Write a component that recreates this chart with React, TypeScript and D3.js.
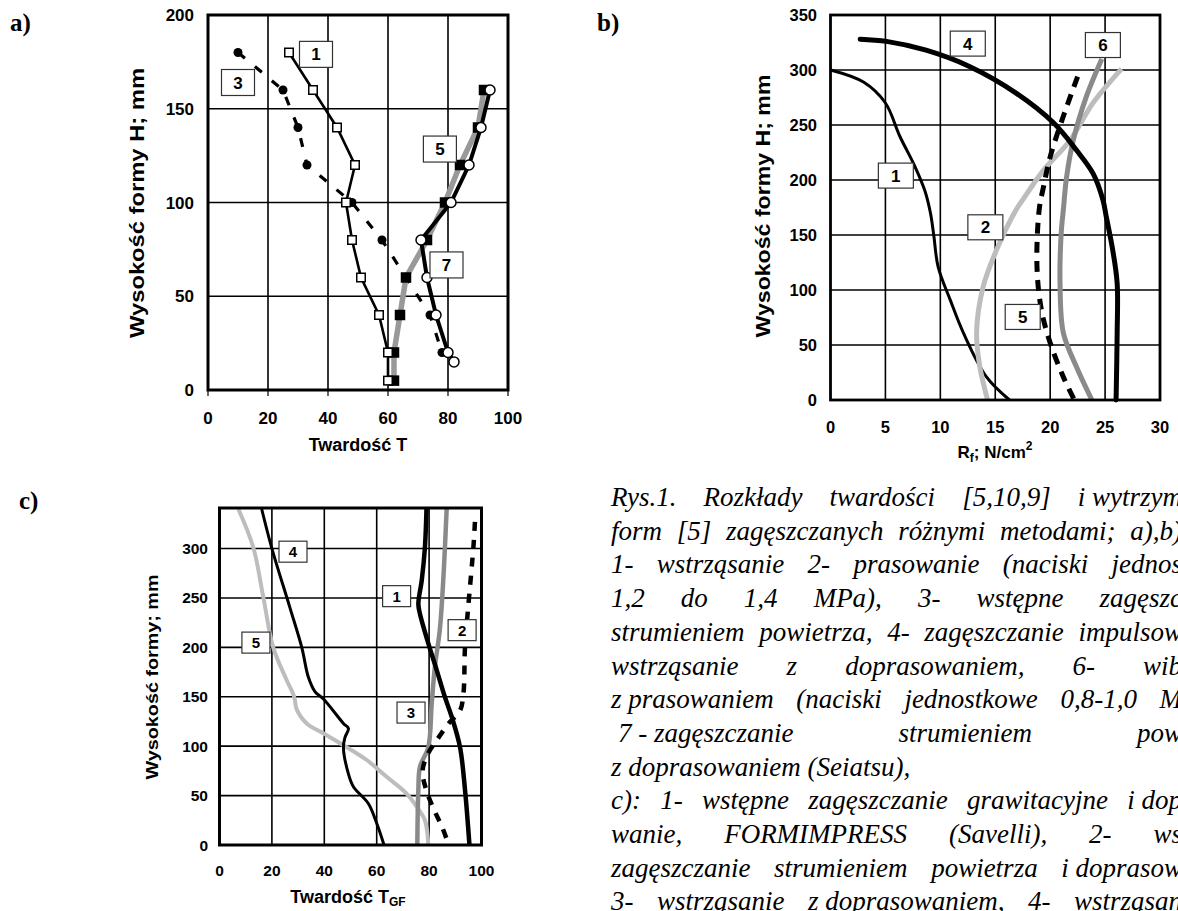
import React, { useMemo } from 'react';
import * as d3 from 'd3';

// ---------- Panel a) data : Twardość T vs H ----------
const aXTicks = [0, 20, 40, 60, 80, 100];
const aYTicks = [0, 50, 100, 150, 200];
const a1H = [180, 160, 140, 120, 100, 80, 60, 40, 20, 5];
const a1T = [27, 35, 43, 49, 46, 48, 51, 57, 60, 60];
const a3H = [180, 160, 140, 120, 100, 80, 60, 40, 20];
const a3T = [10, 25, 30, 33, 48, 58, 66, 74, 78];
const a5H = [160, 140, 120, 100, 80, 60, 40, 20, 5];
const a5T = [92, 90, 84, 79, 73, 66, 64, 62, 62];
const a7H = [160, 140, 120, 100, 80, 60, 40, 20, 15];
const a7T = [94, 91, 87, 81, 71, 73, 76, 80, 82];
const aLabels = ['1', '3', '5', '7'];
const aLabelT = [36, 10, 77.3, 79.5];
const aLabelH = [179, 164, 128.5, 66.7];

// ---------- Panel b) data : Rf vs H ----------
const bXTicks = [0, 5, 10, 15, 20, 25, 30];
const bYTicks = [0, 50, 100, 150, 200, 250, 300, 350];
const b1R = [0, 3, 5, 6.3, 7.7, 8.6, 9.1, 9.4, 9.8, 10.9, 12.1, 14.2, 16.3];
const b1H = [300, 289, 270, 240, 212, 190, 170, 150, 121, 91, 61, 21, 0];
const b4R = [2.7, 5.1, 8.7, 12.7, 16.9, 20.3, 22.4, 23.9, 24.8, 25.1, 25.7, 26.1, 26.1, 26];
const b4H = [328, 326, 318, 303, 279, 252, 227, 206, 182, 167, 136, 106, 61, 0];
const b2R = [26.5, 23.9, 21.8, 19.4, 17.5, 16.9, 15.1, 13.9, 13.3, 13.6, 14.3];
const b2H = [301, 270, 236, 209, 182, 173, 136, 103, 61, 30, 0];
const b6R = [24.7, 23.3, 22.1, 21.5, 21.2, 21, 20.9, 21.2, 22.4, 23.8];
const b6H = [310, 276, 236, 203, 173, 151, 106, 61, 30, 0];
const b5R = [22.5, 21.2, 20, 19.4, 19.0, 18.8, 19.2, 20, 21.2, 22.2];
const b5H = [294, 258, 221, 194, 173, 121, 82, 52, 21, 0];
const bLabels = ['4', '6', '1', '2', '5'];
const bLabelR = [12.5, 24.8, 5.95, 14.1, 17.5];
const bLabelH = [324, 322.7, 204, 157, 75.5];

// ---------- Panel c) data : T_GF vs H ----------
const cXTicks = [0, 20, 40, 60, 80, 100];
const cYTicks = [0, 50, 100, 150, 200, 250, 300];
const c5T = [7.2, 12.9, 16.7, 20.5, 25.6, 28.5, 29.5, 33.3, 39.6, 46, 56.2, 63.8, 71.4, 75.2, 78.4, 79.7];
const c5H = [340, 301, 251, 200, 167, 150, 137, 123, 113, 103, 86, 69, 52, 39, 25, 0];
const c4T = [16.1, 19.9, 26.9, 31.4, 33.9, 36.5, 39.6, 47.3, 49.2, 47.9, 47.3, 49.2, 51.1, 56.8, 60, 62.8];
const c4H = [340, 301, 240, 200, 170, 155, 148, 123, 118, 109, 99, 72, 59, 42, 22, 0];
const c1T = [79, 78.4, 77.2, 75.9, 76.5, 79.7, 82.9, 86, 88.6, 91.8, 93.7, 95.4];
const c1H = [340, 301, 268, 244, 234, 204, 177, 150, 130, 99, 56, 0];
const c3T = [86.7, 85.4, 84.1, 82.2, 81, 79.7, 76.5, 75.9, 75.5];
const c3H = [340, 268, 218, 180, 143, 99, 79, 56, 0];
const c2T = [97.5, 96.9, 94.9, 93.7, 93.1, 91.8, 87.5, 82.9, 79.7, 77.5, 79, 82, 85, 87.5];
const c2H = [327, 301, 240, 200, 153, 136, 123, 106, 93, 75, 55, 35, 18, 0];
const cLabels = ['4', '1', '2', '5', '3'];
const cLabelT = [28.05, 67.6, 92.6, 13.9, 73.1];
const cLabelH = [296.8, 251.8, 217.4, 204.8, 134];

// ---------- Caption ----------
const CAPTION = [
  'Rys.1.|Rozkłady|twardości|[5,10,9]|i wytrzym',
  'form|[5]|zagęszczanych|różnymi|metodami;|a),b)',
  '1-|wstrząsanie|2-|prasowanie|(naciski|jednos',
  '1,2|do|1,4|MPa),|3-|wstępne|zagęszc',
  'strumieniem|powietrza,|4-|zagęszczanie|impulsow',
  'wstrząsanie|z|doprasowaniem,|6-|wib',
  'z prasowaniem|(naciski|jednostkowe|0,8-1,0|M',
  '7 - zagęszczanie|strumieniem|pow',
  'z doprasowaniem (Seiatsu),',
  'c):|1-|wstępne|zagęszczanie|grawitacyjne|i dop',
  'wanie,|FORMIMPRESS|(Savelli),|2-|ws',
  'zagęszczanie|strumieniem|powietrza|i doprasow',
  '3-|wstrząsanie|z doprasowaniem,|4-|wstrząsan',
];
const CAPTION_JUSTIFY = [true, true, true, true, true, true, true, true, false, true, true, true, true];

const SANS = "'Liberation Sans', Arial, sans-serif";
const SERIF = "'Liberation Serif', 'Times New Roman', serif";

const zip = (xs: number[], ys: number[]) => xs.map((x, i) => [x, ys[i]] as [number, number]);

function Frame({ x, y, xt, yt, gw }: any) {
  const [x0, x1] = x.range();
  const [y0, y1] = y.range();
  return (
    <g>
      {xt.slice(1, -1).map((t: number) => (
        <line key={'gx' + t} x1={x(t)} x2={x(t)} y1={y0} y2={y1} stroke="#000" strokeWidth={gw} />
      ))}
      {yt.filter((t: number) => t > y.domain()[0] && t < y.domain()[1]).map((t: number) => (
        <line key={'gy' + t} x1={x0} x2={x1} y1={y(t)} y2={y(t)} stroke="#000" strokeWidth={gw} />
      ))}
    </g>
  );
}

function Border({ x, y, fw }: any) {
  const [x0, x1] = x.range();
  const [y0, y1] = y.range();
  return <rect x={x0} y={y1} width={x1 - x0} height={y0 - y1} fill="none" stroke="#000" strokeWidth={fw} />;
}

function LabelBox({ cx, cy, w, h, text, fs }: any) {
  return (
    <g>
      <rect x={cx - w / 2} y={cy - h / 2} width={w} height={h} fill="#fff" stroke="#333" strokeWidth={1.2} />
      <text x={cx} y={cy + fs * 0.36} textAnchor="middle" fontFamily={SANS} fontWeight="bold" fontSize={fs}>
        {text}
      </text>
    </g>
  );
}

export default function App() {
  const ax = d3.scaleLinear().domain([0, 100]).range([208, 508]);
  const ay = d3.scaleLinear().domain([0, 200]).range([390, 15]);
  const bx = d3.scaleLinear().domain([0, 30]).range([830.5, 1160]);
  const by = d3.scaleLinear().domain([0, 350]).range([400, 15]);
  const cx = d3.scaleLinear().domain([0, 100]).range([219.5, 481.5]);
  const cy = d3.scaleLinear().domain([0, 341]).range([845, 508]);

  const aLine = d3.line<[number, number]>().x(d => ax(d[0])).y(d => ay(d[1]));
  const bLine = d3.line<[number, number]>().x(d => bx(d[0])).y(d => by(d[1])).curve(d3.curveCatmullRom.alpha(0.5));
  const cLine = d3.line<[number, number]>().x(d => cx(d[0])).y(d => cy(d[1])).curve(d3.curveCatmullRom.alpha(0.5));

  const caption = useMemo(() => {
    const X0 = 611;
    const END = 1182;
    const ctx = document.createElement('canvas').getContext('2d')!;
    ctx.font = `italic 27px ${SERIF}`;
    return CAPTION.map((line, i) => {
      const toks = line.split('|');
      const start = i === 7 ? X0 + 7 : X0;
      if (!CAPTION_JUSTIFY[i] || toks.length < 2) return [{ t: toks.join(' '), x: start }];
      const widths = toks.map(t => ctx.measureText(t).width);
      const gap = (END - start - d3.sum(widths)) / (toks.length - 1);
      let x = start;
      return toks.map((t, j) => {
        const o = { t, x };
        x += widths[j] + gap;
        return o;
      });
    });
  }, []);

  const sq = (x: number, y: number, s: number, fill: string, key: string) => (
    <rect key={key} x={x - s / 2} y={y - s / 2} width={s} height={s} fill={fill} stroke="#000" strokeWidth={1.5} />
  );

  return (
    <svg width={1178} height={911} style={{ position: 'absolute', left: 0, top: 0, display: 'block', background: '#fff' }}>
      <rect x={0} y={0} width={1178} height={911} fill="#fff" />

      <text x={10} y={31} fontFamily={SERIF} fontWeight="bold" fontSize={25}>a)</text>
      <text x={597} y={31} fontFamily={SERIF} fontWeight="bold" fontSize={25}>b)</text>
      <text x={19} y={509} fontFamily={SERIF} fontWeight="bold" fontSize={25}>c)</text>

      {/* ================= Panel a ================= */}
      <g>
        <Frame x={ax} y={ay} xt={aXTicks} yt={aYTicks} gw={1.6} />
        {aXTicks.map(t => (
          <line key={'atk' + t} x1={ax(t)} x2={ax(t)} y1={390} y2={396} stroke="#000" strokeWidth={1.2} />
        ))}
        <path d={aLine(zip(a3T, a3H))!} fill="none" stroke="#000" strokeWidth={3.2} strokeDasharray="9 13" />
        {a3T.map((t, i) => <circle key={'a3' + i} cx={ax(t)} cy={ay(a3H[i])} r={4.5} fill="#000" />)}
        <path d={aLine(zip(a5T, a5H))!} fill="none" stroke="#999" strokeWidth={5.5} />
        {a5T.map((t, i) => sq(ax(t), ay(a5H[i]), 9, '#000', 'a5' + i))}
        <path d={aLine(zip(a7T, a7H))!} fill="none" stroke="#000" strokeWidth={4} />
        {a7T.map((t, i) => (
          <circle key={'a7' + i} cx={ax(t)} cy={ay(a7H[i])} r={5} fill="#fff" stroke="#000" strokeWidth={1.5} />
        ))}
        <path d={aLine(zip(a1T, a1H))!} fill="none" stroke="#000" strokeWidth={2.6} />
        {a1T.map((t, i) => sq(ax(t), ay(a1H[i]), 8.5, '#fff', 'a1' + i))}
        <Border x={ax} y={ay} fw={3} />
        {aLabels.map((l, i) => (
          <LabelBox key={'al' + l} cx={ax(aLabelT[i])} cy={ay(aLabelH[i])} w={33} h={26} text={l} fs={17} />
        ))}
        {aYTicks.map(t => (
          <text key={'ayl' + t} x={194} y={ay(t) + 6} textAnchor="end" fontFamily={SANS} fontWeight="bold" fontSize={17}>{t}</text>
        ))}
        {aXTicks.map(t => (
          <text key={'axl' + t} x={ax(t)} y={424} textAnchor="middle" fontFamily={SANS} fontWeight="bold" fontSize={17}>{t}</text>
        ))}
        <text x={358} y={451} textAnchor="middle" fontFamily={SANS} fontWeight="bold" fontSize={18}>Twardość T</text>
        <text transform="translate(144,203) rotate(-90)" textAnchor="middle" fontFamily={SANS} fontWeight="bold" fontSize={21}
          textLength={270} lengthAdjust="spacingAndGlyphs">Wysokość formy H; mm</text>
      </g>

      {/* ================= Panel b ================= */}
      <g>
        <Frame x={bx} y={by} xt={bXTicks} yt={bYTicks} gw={1.6} />
        <path d={bLine(zip(b1R, b1H))!} fill="none" stroke="#000" strokeWidth={3} />
        <path d={bLine(zip(b2R, b2H))!} fill="none" stroke="#bdbdbd" strokeWidth={5} />
        <path d={bLine(zip(b6R, b6H))!} fill="none" stroke="#8a8a8a" strokeWidth={5} />
        <path d={bLine(zip(b5R, b5H))!} fill="none" stroke="#000" strokeWidth={5} strokeDasharray="11 8" />
        <path d={bLine(zip(b4R, b4H))!} fill="none" stroke="#000" strokeWidth={5} strokeLinecap="round" />
        <Border x={bx} y={by} fw={2.8} />
        {bLabels.map((l, i) => (
          <LabelBox key={'bl' + l} cx={bx(bLabelR[i])} cy={by(bLabelH[i])} w={35} h={25} text={l} fs={17} />
        ))}
        {bYTicks.map(t => (
          <text key={'byl' + t} x={817} y={by(t) + 6} textAnchor="end" fontFamily={SANS} fontWeight="bold" fontSize={16.5}>{t}</text>
        ))}
        {bXTicks.map(t => (
          <text key={'bxl' + t} x={bx(t)} y={433} textAnchor="middle" fontFamily={SANS} fontWeight="bold" fontSize={16.5}>{t}</text>
        ))}
        <text x={995} y={458} textAnchor="middle" fontFamily={SANS} fontWeight="bold" fontSize={17}>
          R<tspan fontSize={12} dy={4}>f</tspan><tspan dy={-4}>; N/cm</tspan><tspan fontSize={12} dy={-8}>2</tspan>
        </text>
        <text transform="translate(770,206) rotate(-90)" textAnchor="middle" fontFamily={SANS} fontWeight="bold" fontSize={21}
          textLength={263} lengthAdjust="spacingAndGlyphs">Wysokość formy H; mm</text>
      </g>

      {/* ================= Panel c ================= */}
      <g>
        <Frame x={cx} y={cy} xt={cXTicks} yt={cYTicks} gw={1.6} />
        <path d={cLine(zip(c5T, c5H))!} fill="none" stroke="#bdbdbd" strokeWidth={4} />
        <path d={cLine(zip(c4T, c4H))!} fill="none" stroke="#000" strokeWidth={3} />
        <path d={cLine(zip(c3T, c3H))!} fill="none" stroke="#8a8a8a" strokeWidth={4.5} />
        <path d={cLine(zip(c2T, c2H))!} fill="none" stroke="#000" strokeWidth={4.5} strokeDasharray="9 9" />
        <path d={cLine(zip(c1T, c1H))!} fill="none" stroke="#000" strokeWidth={4.5} />
        <Border x={cx} y={cy} fw={3} />
        {cLabels.map((l, i) => (
          <LabelBox key={'cl' + l} cx={cx(cLabelT[i])} cy={cy(cLabelH[i])} w={28} h={21} text={l} fs={15} />
        ))}
        {cYTicks.map(t => (
          <text key={'cyl' + t} x={208} y={cy(t) + 5.5} textAnchor="end" fontFamily={SANS} fontWeight="bold" fontSize={15.5}>{t}</text>
        ))}
        {cXTicks.map(t => (
          <text key={'cxl' + t} x={cx(t)} y={876} textAnchor="middle" fontFamily={SANS} fontWeight="bold" fontSize={15.5}>{t}</text>
        ))}
        <text x={348} y={903} textAnchor="middle" fontFamily={SANS} fontWeight="bold" fontSize={18}>
          Twardość T<tspan fontSize={12} dy={3}>GF</tspan>
        </text>
        <text transform="translate(158,677) rotate(-90)" textAnchor="middle" fontFamily={SANS} fontWeight="bold" fontSize={17}
          textLength={205} lengthAdjust="spacingAndGlyphs">Wysokość formy; mm</text>
      </g>

      {/* ================= Caption ================= */}
      <g fontFamily={SERIF} fontStyle="italic" fontSize={27} fill="#000">
        {caption.map((toks, i) => (
          <text key={'cap' + i} y={506 + i * 33.7} style={{ whiteSpace: 'pre' }}>
            {toks.map((tk, j) => (
              <tspan key={j} x={tk.x}>{tk.t}</tspan>
            ))}
          </text>
        ))}
      </g>
    </svg>
  );
}
